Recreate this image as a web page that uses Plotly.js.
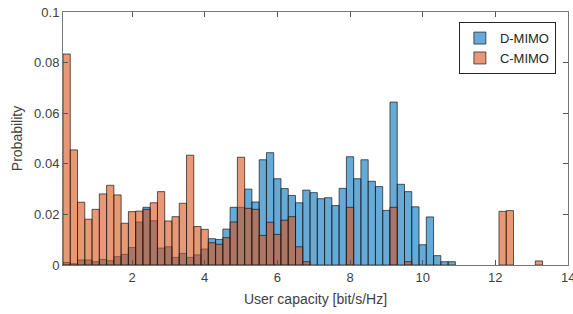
<!DOCTYPE html>
<html>
<head>
<meta charset="utf-8">
<script src="https://cdn.plot.ly/plotly-3.0.1.min.js"></script>
<style>html,body{margin:0;padding:0;background:#fff;}#chart{width:573px;height:314px;}</style>
</head>
<body>
<div id="chart"></div>
<script>
// Bin centers (bin width 0.2)
var binCenters = [0.2,0.4,0.6,0.8,1.0,1.2,1.4,1.6,1.8,2.0,2.2,2.4,2.6,2.8,3.0,3.2,3.4,3.6,3.8,4.0,
  4.2,4.4,4.6,4.8,5.0,5.2,5.4,5.6,5.8,6.0,6.2,6.4,6.6,6.8,7.0,7.2,7.4,7.6,7.8,8.0,
  8.2,8.4,8.6,8.8,9.0,9.2,9.4,9.6,9.8,10.0,10.2,10.4,10.6,10.8,11.0,11.2,11.4,11.6,11.8,12.0,
  12.2,12.4,12.6,12.8,13.0,13.2];
var dmimo = [0.001,0.0005,0.002,0.002,0.0013,0.0022,0.0017,0.0033,0.0042,0.0069,0.017,0.0228,0.0175,0.0067,0.0072,0.003,0.0046,0.003,0.004,0.0063,
  0.0104,0.0101,0.0142,0.0228,0.0228,0.030,0.0249,0.0416,0.0444,0.0341,0.0302,0.0275,0.0246,0.0296,0.0286,0.0262,0.0266,0.0235,0.0303,0.0428,
  0.0341,0.0416,0.0331,0.031,0.0216,0.0644,0.0319,0.029,0.023,0.008,0.019,0.0037,0.0013,0.0013,0,0,0,0,0,0,
  0,0,0,0,0,0];
var cmimo = [0.0834,0.0455,0.0248,0.0181,0.022,0.0281,0.0315,0.0277,0.0165,0.0211,0.0213,0.022,0.0246,0.029,0.0174,0.0191,0.0244,0.0434,0.0152,0.0141,
  0.0088,0.0082,0.0108,0.017,0.0426,0.0224,0.022,0.0117,0.0169,0.0121,0.0177,0.0191,0.0072,0.0013,0,0,0,0,0,0.0228,
  0,0,0,0,0,0.0228,0,0.0013,0,0,0,0,0,0,0,0,0,0,0,0,
  0.0212,0.0215,0,0,0,0.0016];
var seriesNames = ['D-MIMO','C-MIMO'];
var xTicks = [2,4,6,8,10,12,14];
var yTicks = [0,0.02,0.04,0.06,0.08,0.1];
var yTickText = ['0','0.02','0.04','0.06','0.08','0.1'];

function nz(a){return a.map(function(v){return v===0?null:v;});}

var traces = [
  {type:'bar', x:binCenters, y:nz(dmimo), width:0.2, name:seriesNames[0],
   marker:{color:'rgba(0,114,189,0.6)', line:{color:'rgba(20,20,20,0.85)', width:0.8}}},
  {type:'bar', x:binCenters, y:nz(cmimo), width:0.2, name:seriesNames[1],
   marker:{color:'rgba(217,83,25,0.6)', line:{color:'rgba(20,20,20,0.85)', width:0.8}}}
];

var fam = 'Liberation Sans, Arial, sans-serif';
var axisFont = {family:fam, size:13, color:'#404040'};
var lastTick = xTicks[xTicks.length-1];
var layout = {
  width:573, height:314,
  margin:{l:63, r:5, t:12, b:49},
  paper_bgcolor:'#fff', plot_bgcolor:'#fff',
  barmode:'overlay', bargap:0,
  showlegend:true,
  legend:{x:0.976, y:0.96, xanchor:'right', yanchor:'top', bgcolor:'#fff',
    bordercolor:'#262626', borderwidth:1, font:{family:fam, size:13, color:'#262626'},
    tracegroupgap:0, itemwidth:30},
  xaxis:{range:[0.1,14], tickvals:xTicks, ticktext:xTicks.map(String), ticks:'inside', ticklen:5,
    tickcolor:'#555', showline:true, linecolor:'#777', linewidth:1, mirror:'ticks', showgrid:false, zeroline:false,
    tickfont:axisFont,
    title:{text:'User capacity [bit/s/Hz]', font:{family:fam, size:14, color:'#404040'}, standoff:10}},
  yaxis:{range:[0,0.1], tickvals:yTicks, ticktext:yTickText, ticks:'inside', ticklen:5,
    tickcolor:'#555', showline:true, linecolor:'#777', linewidth:1, mirror:'ticks', showgrid:false, zeroline:false,
    tickfont:axisFont,
    title:{text:'Probability', font:{family:fam, size:14, color:'#404040'}, standoff:8}},
  annotations:[{x:lastTick, xref:'x', y:0, yref:'paper', text:String(lastTick), showarrow:false,
    xanchor:'center', yanchor:'top', yshift:-3, font:axisFont}]
};
Plotly.newPlot('chart', traces, layout, {staticPlot:true, displayModeBar:false});
</script>
</body>
</html>
